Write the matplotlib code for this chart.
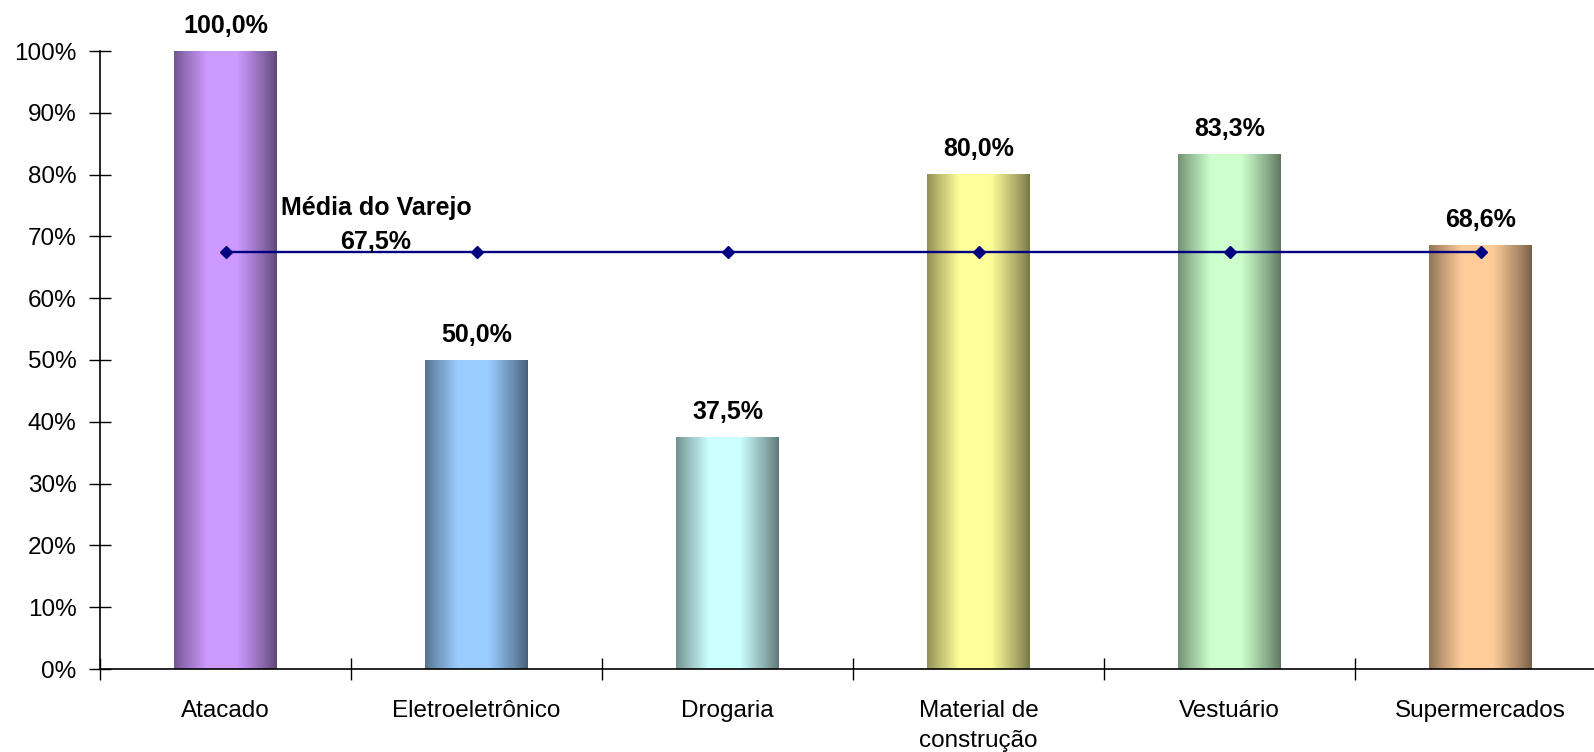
import numpy as np
import matplotlib
matplotlib.use("Agg")
import matplotlib.pyplot as plt
from matplotlib.colors import to_rgb

plt.rcParams['font.family'] = ['Liberation Sans', 'DejaVu Sans']

# dados do grafico
categorias = ["Atacado", "Eletroeletrônico", "Drogaria", "Material de\nconstrução",
              "Vestuário", "Supermercados"]
valores = [100.0, 50.0, 37.5, 80.0, 83.3, 68.6]
media_varejo = [67.5, 67.5, 67.5, 67.5, 67.5, 67.5]
cores = ["#CC99FF", "#99CCFF", "#CCFFFF", "#FFFF99", "#CCFFCC", "#FFCC99"]
yticks = [0, 10, 20, 30, 40, 50, 60, 70, 80, 90, 100]


def gradiente(cor, n=200):
    # degrade tipo cilindro: escuro nas bordas, claro no meio
    c = np.array(to_rgb(cor))
    escuro = c * 0.47
    t = np.linspace(0, 1, n)
    perfil = np.clip(1 - np.abs((t - 0.47) / 0.53), 0, 1) ** 0.9
    perfil = np.minimum(perfil * 1.35, 1.0)
    img = escuro[None, :] + (c - escuro)[None, :] * perfil[:, None]
    return img[None, :, :]


fig = plt.figure(figsize=(15.94, 7.52), dpi=100)
ax = fig.add_axes([100 / 1594, 1 - 669 / 752, 1506 / 1594, 618 / 752])

x = np.arange(len(categorias))
barras = ax.bar(x, valores, width=0.41, color="none", edgecolor="none")

for b, cor, v in zip(barras, cores, valores):
    x0 = b.get_x()
    ax.imshow(gradiente(cor), extent=[x0, x0 + b.get_width(), 0, b.get_height()],
              aspect='auto', zorder=2, interpolation='nearest')
    ax.annotate(("%.1f%%" % v).replace(".", ","), (b.get_x() + b.get_width() / 2, v),
                xytext=(0, 9.5), textcoords='offset points', ha='center', va='bottom',
                fontsize=18, fontweight='bold')

ax.plot(x, media_varejo, color="#000080", lw=1.7, marker='D', markersize=6.5, zorder=3)
ax.text(0.6, 73.4, "Média do Varejo", ha='center', va='baseline',
        fontsize=18, fontweight='bold')
ax.text(0.6, 68.0, "67,5%", ha='center', va='baseline',
        fontsize=18, fontweight='bold')

ax.set_xlim(-0.5, len(categorias) - 0.5)
ax.set_ylim(0, 100)
ax.set_yticks(yticks)
ax.set_yticklabels(["%d%%" % t for t in yticks], fontsize=17.5)
ax.tick_params(axis='y', direction='inout', length=16, width=1, pad=9)

ax.set_xticks(x)
ax.set_xticklabels(categorias, fontsize=17.5, linespacing=1.5)
ax.tick_params(axis='x', which='major', length=0, pad=22)
ax.set_xticks(np.arange(len(categorias) + 1) - 0.5, minor=True)
ax.tick_params(axis='x', which='minor', direction='inout', length=16, width=1)

for s in ["top", "right"]:
    ax.spines[s].set_visible(False)
for s in ["left", "bottom"]:
    ax.spines[s].set_linewidth(1.2)

fig.savefig("out.png", dpi=100)
